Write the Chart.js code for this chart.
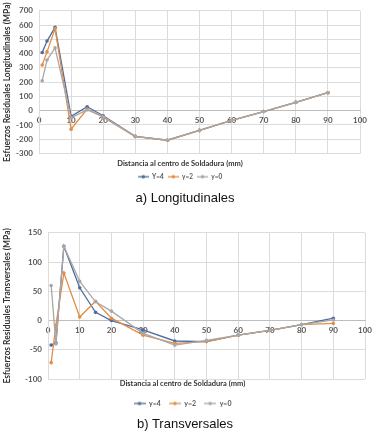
<!DOCTYPE html>
<html>
<head>
<meta charset="utf-8">
<script src="https://cdn.jsdelivr.net/npm/chart.js@4"></script>
<style>
  html, body { margin: 0; padding: 0; background: #fff; }
  body { width: 383px; height: 444px; position: relative; overflow: hidden; }
  .box { position: absolute; left: 0; width: 383px; }
  .caption { position: absolute; left: 0; width: 370px; text-align: center;
             font-family: "Liberation Sans", Arial, sans-serif; font-size: 13px; color: #111; }
</style>
</head>
<body>
<div class="box" style="top:0;height:192px"><canvas id="longChart"></canvas></div>
<div class="caption" style="top:190px">a) Longitudinales</div>
<div class="box" style="top:222px;height:198px"><canvas id="transChart"></canvas></div>
<div class="caption" style="top:416px">b) Transversales</div>

<script>
// distancia al centro de soldadura (mm)
const distancias = [1, 2.5, 5, 10, 15, 20, 30, 40, 50, 60, 70, 80, 90];

// a) esfuerzos longitudinales (MPa)
const longLabels = ['Y=4', 'y=2', 'y=0'];
const longY4 = [408, 488, 584, -40, 28, -35, -180, -207, -138, -68, -6, 58, 126];
const longY2 = [320, 412, 575, -130, 12, -45, -182, -207, -138, -68, -6, 58, 126];
const longY0 = [210, 355, 440, -50, 6, -42, -180, -207, -138, -68, -6, 58, 126];

// b) esfuerzos transversales (MPa)
const transLabels = ['y=4', 'y=2', 'y=0'];
const transY4 = [-42, -38, 127, 56, 14, 0, -16, -35, -36, -25, -17, -7, 4];
const transY2 = [-72, -8, 81, 6, 33, 4, -25, -39, -36, -25, -17, -7, -5];
const transY0 = [60, -40, 127, 67, 32, 16, -22, -42, -34, -25, -17, -7, 1];

const colores = ['#4e6e9e', '#e38d47', '#a8a8a8'];
const fontFamily = 'Lato, "Open Sans", sans-serif';
const textColor = '#595959';

function makeMarker(color, w, h) {
    const c = document.createElement('canvas');
    c.width = w;
    c.height = h;
    const g = c.getContext('2d');
    g.strokeStyle = color;
    g.lineWidth = 1.3;
    g.beginPath();
    g.moveTo(0, h / 2);
    g.lineTo(w, h / 2);
    g.stroke();
    g.fillStyle = color;
    g.beginPath();
    g.arc(w / 2, h / 2, 1.8, 0, Math.PI * 2);
    g.fill();
    return c;
}

function buildChart(id, cfg) {
    const ctx = document.getElementById(id).getContext('2d');
    const markers = colores.map(c => makeMarker(c, cfg.markerW, 6));

    const datasets = cfg.series.map((vals, i) => ({
        label: cfg.labels[i],
        data: vals.map((v, k) => ({ x: distancias[k], y: v })),
        borderColor: colores[i],
        backgroundColor: colores[i],
        borderWidth: 1.3,
        pointRadius: 1.8,
        pointBorderWidth: 0,
        tension: 0,
        order: 3 - i   // gris encima, como en Excel
    }));

    return new Chart(ctx, {
        type: 'line',
        data: { datasets: datasets },
        options: {
            responsive: true,
            maintainAspectRatio: false,
            animation: false,
            layout: { padding: cfg.padding },
            plugins: {
                tooltip: { enabled: false },
                title: {
                    display: true,
                    position: 'bottom',
                    text: 'Distancia al centro de Soldadura (mm)',
                    color: '#333',
                    font: { family: fontFamily, size: 7.5, weight: 'bold' },
                    padding: cfg.titlePad
                },
                legend: {
                    position: 'bottom',
                    weight: 3000,
                    labels: {
                        usePointStyle: true,
                        pointStyleWidth: cfg.markerW,
                        padding: cfg.legendPad,
                        color: textColor,
                        font: { family: fontFamily, size: cfg.legendFont, weight: 'bold' },
                        generateLabels: chart => chart.data.datasets.map((ds, i) => ({
                            text: ds.label,
                            pointStyle: markers[i],
                            fillStyle: 'transparent',
                            strokeStyle: 'transparent',
                            lineWidth: 0,
                            fontColor: textColor,
                            hidden: false,
                            datasetIndex: i
                        }))
                    }
                }
            },
            scales: {
                x: {
                    type: 'linear',
                    min: 0,
                    max: 100,
                    position: { y: 0 },
                    afterFit: scale => { scale.height = 0; },
                    grid: { color: '#dcdcdc', lineWidth: 1, drawTicks: false },
                    border: { color: '#bdbdbd', width: 1 },
                    ticks: {
                        stepSize: 10,
                        padding: 5,
                        maxRotation: 0,
                        color: textColor,
                        font: { family: fontFamily, size: 8, weight: 'bold' }
                    }
                },
                y: {
                    min: cfg.yMin,
                    max: cfg.yMax,
                    afterFit: scale => { scale.width = cfg.yWidth; },
                    grid: { color: '#dcdcdc', lineWidth: 1, drawTicks: false },
                    border: { color: '#dcdcdc' },
                    ticks: {
                        stepSize: cfg.yStep,
                        padding: 6,
                        color: textColor,
                        font: { family: fontFamily, size: 8, weight: 'bold' }
                    },
                    title: {
                        display: true,
                        text: cfg.yTitle,
                        color: '#333',
                        font: { family: fontFamily, size: 8.5, weight: 'bold' },
                        padding: { top: 2, bottom: 0 }
                    }
                }
            }
        }
    });
}

buildChart('longChart', {
    labels: longLabels,
    series: [longY4, longY2, longY0],
    yMin: -300, yMax: 700, yStep: 100,
    yWidth: 39,
    yTitle: 'Esfuerzos Residuales Longitudinales (MPa)',
    padding: { top: 8, right: 23, left: 0, bottom: 2 },
    titlePad: { top: 6, bottom: 1 },
    legendPad: 4,
    legendFont: 6.5,
    markerW: 11
});

buildChart('transChart', {
    labels: transLabels,
    series: [transY4, transY2, transY0],
    yMin: -100, yMax: 150, yStep: 50,
    yWidth: 48,
    yTitle: 'Esfuerzos Residuales Transversales (MPa)',
    padding: { top: 9, right: 18, left: 0, bottom: 3 },
    titlePad: { top: 0, bottom: 4 },
    legendPad: 8,
    legendFont: 7,
    markerW: 12
});
</script>
</body>
</html>
